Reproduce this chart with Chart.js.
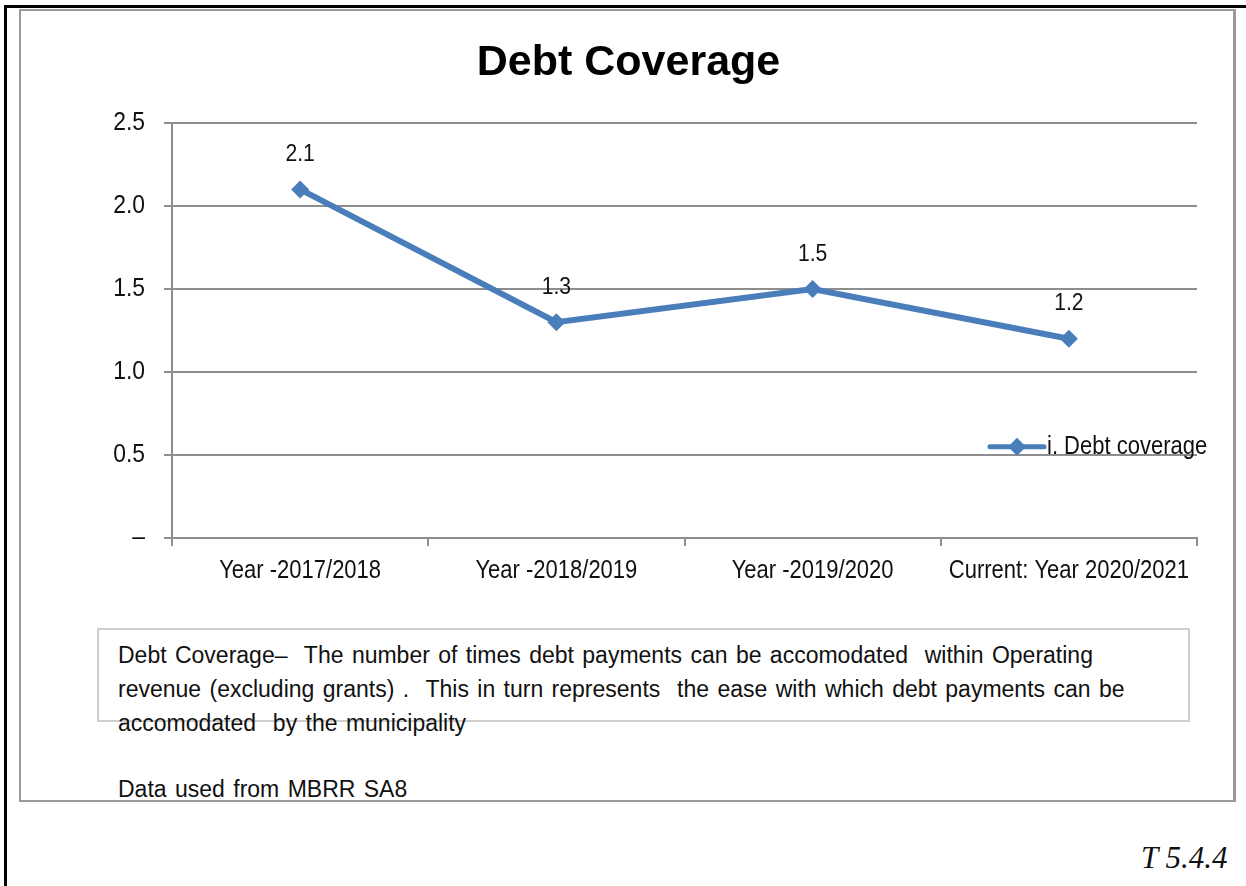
<!DOCTYPE html>
<html>
<head>
<meta charset="utf-8">
<title>Debt Coverage</title>
<script src="https://cdn.jsdelivr.net/npm/chart.js@4/dist/chart.umd.min.js"></script>
<style>
    html, body { margin: 0; padding: 0; background: #fff; }
    #page { position: relative; width: 1246px; height: 886px; overflow: hidden; }
    #chart { position: absolute; left: 0; top: 0; }
    .frame-top { position: absolute; left: 4px; top: 5px; width: 1242px; height: 3px; background: #000; }
    .frame-left { position: absolute; left: 4px; top: 5px; width: 3px; height: 881px; background: #000; }
    .chart-box { position: absolute; left: 19px; top: 9px; width: 1212px; height: 789px; border: 2px solid #9a9a9a; border-right-width: 3px; }
    .note-box { position: absolute; left: 97px; top: 628px; width: 1089px; height: 90px; border: 2px solid #cfcfcf; }
    .note { position: absolute; left: 118px; top: 638px; font: 23px "Liberation Sans", Arial, sans-serif; line-height: 34px; color: #111; white-space: pre; word-spacing: 2px; }
    .source { position: absolute; left: 118px; top: 776px; font: 23px "Liberation Sans", Arial, sans-serif; color: #111; word-spacing: 2px; }
    .ref { position: absolute; left: 1141px; top: 840px; font: italic 31px "Liberation Serif", "Times New Roman", serif; color: #111; }
</style>
</head>
<body>
<div id="page">
    <div class="frame-top"></div>
    <div class="frame-left"></div>
    <div class="chart-box"></div>
    <div class="note-box"></div>
    <div class="note">Debt Coverage–  The number of times debt payments can be accomodated  within Operating
revenue (excluding grants) .  This in turn represents  the ease with which debt payments can be
accomodated  by the municipality</div>
    <div class="source">Data used  from MBRR SA8</div>
    <div class="ref">T 5.4.4</div>
    <canvas id="chart" width="1246" height="886"></canvas>
</div>
<script>
const categories = ["Year -2017/2018", "Year -2018/2019", "Year -2019/2020", "Current: Year 2020/2021"];
const debtCoverage = [2.1, 1.3, 1.5, 1.2];
const seriesName = "i. Debt coverage";
const yTicks = [0, 0.5, 1.0, 1.5, 2.0, 2.5];

const FONT = '"Liberation Sans", Arial, sans-serif';
const BLUE = "#4a7ebb";
const GRID = "#8e8e8e";
const NARROW = 0.88;

// regular-weight chart text is drawn condensed (narrow face look); bold title stays as is
const narrowText = {
    id: "narrowText",
    beforeDraw(chart) {
        const ctx = chart.ctx;
        if (ctx.__narrow) return;
        const fill = ctx.fillText;
        ctx.fillText = function (text, x, y, maxWidth) {
            if (this.font.indexOf("bold") !== -1) return fill.call(this, text, x, y, maxWidth);
            this.save();
            this.translate(x, y);
            this.scale(NARROW, 1);
            fill.call(this, text, 0, 0);
            this.restore();
        };
        ctx.__narrow = true;
    }
};

// value labels above each point
const pointLabels = {
    id: "pointLabels",
    afterDatasetsDraw(chart) {
        const ctx = chart.ctx;
        const meta = chart.getDatasetMeta(0);
        ctx.save();
        ctx.font = "24px " + FONT;
        ctx.fillStyle = "#111";
        ctx.textAlign = "center";
        ctx.textBaseline = "middle";
        meta.data.forEach((pt, i) => {
            ctx.fillText(debtCoverage[i].toFixed(1), pt.x, pt.y - 35);
        });
        ctx.restore();
    }
};

// legend sits inside the plot, near the right edge
const insideLegend = {
    id: "insideLegend",
    afterDraw(chart) {
        const ctx = chart.ctx;
        const area = chart.chartArea;
        const y = chart.scales.y.getPixelForValue(0.55);
        const x0 = area.right - 207;
        ctx.save();
        ctx.strokeStyle = BLUE;
        ctx.lineWidth = 5;
        ctx.lineCap = "round";
        ctx.beginPath();
        ctx.moveTo(x0, y);
        ctx.lineTo(x0 + 54, y);
        ctx.stroke();
        const cx = x0 + 27, r = 9;
        ctx.fillStyle = BLUE;
        ctx.beginPath();
        ctx.moveTo(cx, y - r);
        ctx.lineTo(cx + r, y);
        ctx.lineTo(cx, y + r);
        ctx.lineTo(cx - r, y);
        ctx.closePath();
        ctx.fill();
        ctx.font = "25px " + FONT;
        ctx.fillStyle = "#111";
        ctx.textAlign = "left";
        ctx.textBaseline = "middle";
        ctx.fillText(seriesName, x0 + 57, y);
        ctx.restore();
    }
};

new Chart(document.getElementById("chart").getContext("2d"), {
    type: "line",
    data: {
        labels: categories,
        datasets: [{
            label: seriesName,
            data: debtCoverage,
            borderColor: BLUE,
            backgroundColor: BLUE,
            borderWidth: 6,
            pointStyle: "rectRot",
            pointRadius: 9,
            pointHoverRadius: 9,
            pointBorderWidth: 0,
            tension: 0
        }]
    },
    options: {
        responsive: false,
        animation: false,
        events: [],
        layout: { padding: { left: 60, right: 49, top: 0, bottom: 298 } },
        plugins: {
            legend: { display: false },
            tooltip: { enabled: false },
            title: {
                display: true,
                text: "Debt Coverage",
                color: "#000",
                font: { family: FONT, size: 43, weight: "bold", lineHeight: 1.0 },
                padding: { top: 42, bottom: 38 }
            }
        },
        scales: {
            x: {
                offset: true,
                grid: { offset: true, drawOnChartArea: false, drawTicks: true, tickLength: 8, color: GRID, lineWidth: 2 },
                border: { color: GRID, width: 2 },
                ticks: { color: "#111", font: { family: FONT, size: 25 }, padding: 10, maxRotation: 0, autoSkip: false },
                afterFit: s => { s.height = 50; }
            },
            y: {
                min: 0,
                max: 2.5,
                afterBuildTicks: s => { s.ticks = yTicks.map(v => ({ value: v })); },
                grid: { color: GRID, lineWidth: 2, tickLength: 8 },
                border: { color: GRID, width: 2 },
                ticks: {
                    color: "#111",
                    font: { family: FONT, size: 26 },
                    padding: 19,
                    callback: v => v === 0 ? "–" : v.toFixed(1)
                },
                afterFit: s => { s.width = 112; }
            }
        }
    },
    plugins: [narrowText, pointLabels, insideLegend]
});
</script>
</body>
</html>
